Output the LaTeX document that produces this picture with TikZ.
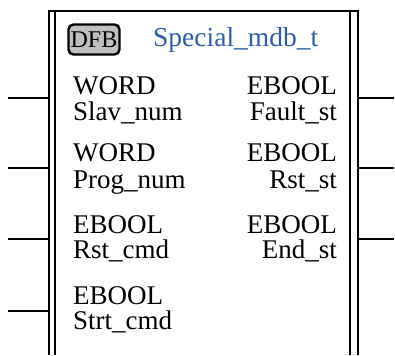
\documentclass[tikz,border=0pt]{standalone}
\usepackage{fontspec}
\setmainfont{Liberation Serif}
\definecolor{titleblue}{RGB}{45,92,170}
\definecolor{dfbgray}{RGB}{192,192,192}
\tikzset{
  lbl/.style={font=\fontsize{27}{27}\selectfont, inner sep=0pt, text height=18pt, text depth=4pt},
  lblL/.style={lbl, anchor=base west},
  lblR/.style={lbl, anchor=base east},
  boxline/.style={line width=2pt},
  pinline/.style={line width=1.8pt},
}
\begin{document}
\begin{tikzpicture}[x=1pt,y=-1pt]
\useasboundingbox (0,0) rectangle (395,355);
% block frame (open at bottom)
\draw[boxline] (48.5,355) -- (48.5,11) -- (357.5,11) -- (357.5,355);
\draw[boxline] (55,355) -- (55,11);
\draw[boxline] (350,11) -- (350,355);
% header
\node[draw, fill=dfbgray, rounded corners=5pt, line width=2.4pt, minimum width=51pt, minimum height=30pt, inner sep=0pt, font=\fontsize{24}{24}\selectfont] (dfb) at (94,39.5) {DFB};
\node[lblL, text=titleblue, font=\fontsize{27.5}{27.5}\selectfont] (title) at (153,47) {Special\_mdb\_t};
% inputs
\node[lblL] (t1) at (73,95) {WORD};
\node[lblL] (n1) at (73,121) {Slav\_num};
\node[lblL] (t2) at (73,161) {WORD};
\node[lblL] (n2) at (73,188) {Prog\_num};
\node[lblL] (t3) at (73,233) {EBOOL};
\node[lblL] (n3) at (73,258.5) {Rst\_cmd};
\node[lblL] (t4) at (73,304) {EBOOL};
\node[lblL] (n4) at (73,329.5) {Strt\_cmd};
% outputs
\node[lblR] (o1) at (337,95) {EBOOL};
\node[lblR] (m1) at (337,120.5) {Fault\_st};
\node[lblR] (o2) at (337,162) {EBOOL};
\node[lblR] (m2) at (337,188) {Rst\_st};
\node[lblR] (o3) at (337,233) {EBOOL};
\node[lblR] (m3) at (337,258.5) {End\_st};
% pin coordinates
\foreach \i/\y in {1/98,2/168,3/239,4/311}{
  \coordinate (inA\i) at (8,\y);
  \coordinate (inB\i) at (48.5,\y);
  \draw[pinline] (inA\i) -- (inB\i);
}
\foreach \i/\y in {1/98,2/168,3/239}{
  \coordinate (outA\i) at (357.5,\y);
  \coordinate (outB\i) at (394,\y);
  \draw[pinline] (outA\i) -- (outB\i);
}
\end{tikzpicture}
\end{document}
